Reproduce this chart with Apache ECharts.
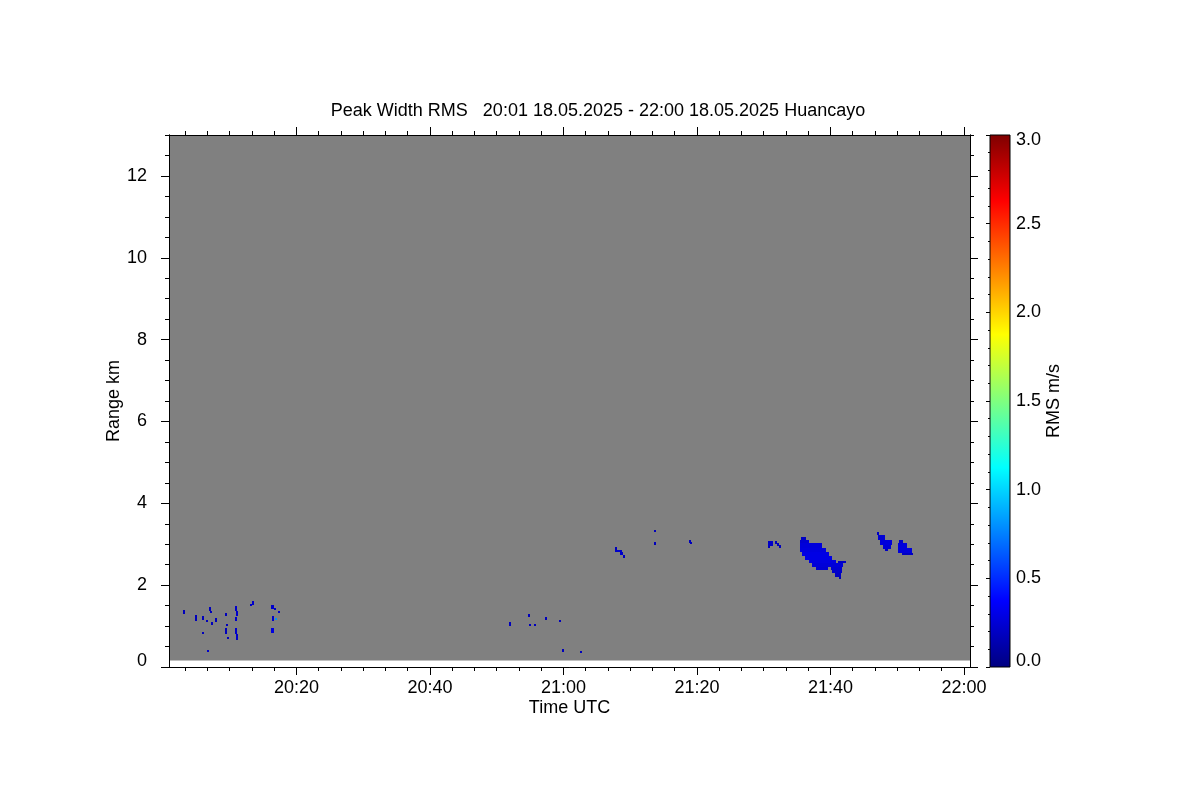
<!DOCTYPE html>
<html>
<head>
<meta charset="utf-8">
<script src="https://cdn.jsdelivr.net/npm/echarts@6/dist/echarts.min.js"></script>
<style>
html,body{margin:0;padding:0;background:#ffffff}
#chart{width:1200px;height:800px}
</style>
</head>
<body>
<div id="chart"></div>
<script>
// ---------------- data ----------------
const titleText = 'Peak Width RMS   20:01 18.05.2025 - 22:00 18.05.2025 Huancayo';
const timeMajorTicks = [20, 40, 60, 80, 100, 120];          // minutes after 20:00 UTC
const rangeMajorTicks = [0, 2, 4, 6, 8, 10, 12];            // km
const rmsTicks = [0, 0.5, 1, 1.5, 2, 2.5, 3];               // m/s
const timeExtent = [0.9, 120.9];                            // minutes after 20:00
const rangeExtent = [0, 13];                                // km
const coverageTime = [0.9, 120.9];                          // measured window
const coverageRange = [0.16, 13];                           // measured heights
const jetColors = ['#00007f', '#0000ff', '#007fff', '#00ffff', '#7fff7f',
                   '#ffff00', '#ff7f00', '#ff0000', '#7f0000'];

// echo cells: [t start (min), t end (min), range low (km), range high (km), rms (m/s)]
const echoesEarly = [
  [3.0, 3.3, 1.29, 1.39, 0.18], [6.9, 7.2, 1.36, 1.46, 0.18], [7.0, 7.4, 1.31, 1.36, 0.18],
  [4.8, 5.1, 1.12, 1.27, 0.18], [5.9, 6.2, 1.15, 1.24, 0.18], [6.4, 6.8, 1.10, 1.15, 0.18],
  [7.2, 7.5, 1.02, 1.10, 0.18], [7.8, 8.1, 1.10, 1.20, 0.18], [9.3, 9.6, 1.24, 1.32, 0.18],
  [9.5, 9.8, 0.99, 1.04, 0.18], [9.3, 9.6, 0.80, 0.95, 0.18], [9.6, 9.9, 0.69, 0.73, 0.18],
  [5.9, 6.2, 0.81, 0.85, 0.18], [6.6, 6.9, 0.36, 0.42, 0.22],
  [10.8, 11.1, 1.36, 1.49, 0.22], [11.0, 11.3, 1.24, 1.36, 0.22], [10.8, 11.1, 1.12, 1.22, 0.22],
  [10.8, 11.1, 0.80, 0.95, 0.22], [11.0, 11.3, 0.66, 0.80, 0.22],
  [13.3, 13.6, 1.51, 1.61, 0.22], [13.1, 13.3, 1.49, 1.54, 0.22],
  [16.2, 16.6, 1.42, 1.51, 0.22], [16.6, 16.9, 1.39, 1.44, 0.22], [17.3, 17.6, 1.32, 1.37, 0.22],
  [16.4, 16.7, 1.12, 1.24, 0.22], [16.8, 17.1, 1.15, 1.20, 0.8],
  [16.2, 16.6, 0.83, 0.95, 0.28]
];
const echoesMid = [
  [51.9, 52.1, 1.00, 1.10, 0.18], [54.7, 55.0, 1.22, 1.29, 0.18], [54.9, 55.1, 1.00, 1.04, 0.18],
  [55.6, 55.8, 1.00, 1.04, 0.18], [57.3, 57.5, 1.16, 1.23, 0.18], [59.4, 59.6, 1.10, 1.14, 0.18],
  [59.8, 60.0, 0.36, 0.44, 0.18], [62.4, 62.6, 0.35, 0.39, 0.18]
];
const echoes2108 = [
  [67.7, 68.0, 2.85, 2.93, 0.18], [67.7, 68.8, 2.80, 2.85, 0.22],
  [68.5, 68.9, 2.73, 2.80, 0.22], [68.9, 69.2, 2.66, 2.73, 0.18],
  [73.6, 73.8, 3.29, 3.35, 0.18], [73.5, 73.9, 2.97, 3.05, 0.18],
  [78.8, 79.0, 3.04, 3.10, 0.18], [79.0, 79.3, 3.00, 3.05, 0.18]
];
const echoes2131 = [
  [90.6, 91.4, 2.95, 3.07, 0.22], [90.7, 90.9, 2.90, 2.95, 0.18],
  [91.7, 92.0, 3.00, 3.07, 0.18], [92.0, 92.3, 2.95, 3.02, 0.18], [92.3, 92.6, 2.90, 2.97, 0.18]
];
const echoes2135 = [
  [95.6, 96.3, 3.10, 3.17, 0.2], [95.4, 96.8, 3.02, 3.10, 0.24], [95.4, 98.7, 2.90, 3.02, 0.27],
  [95.4, 99.3, 2.80, 2.90, 0.28], [95.7, 99.8, 2.71, 2.80, 0.3], [96.2, 100.2, 2.61, 2.71, 0.3],
  [96.8, 100.8, 2.54, 2.61, 0.28], [101.1, 102.3, 2.54, 2.58, 0.2],
  [97.2, 101.9, 2.44, 2.54, 0.26], [97.8, 99.6, 2.37, 2.44, 0.24], [100.1, 101.7, 2.37, 2.44, 0.24],
  [100.2, 101.7, 2.29, 2.37, 0.22], [100.7, 101.6, 2.20, 2.29, 0.2], [101.3, 101.6, 2.15, 2.20, 0.16]
];
const echoes2147 = [
  [107.0, 107.3, 3.22, 3.29, 0.2], [107.1, 108.2, 3.10, 3.22, 0.25], [107.4, 109.2, 2.98, 3.10, 0.27],
  [107.9, 109.1, 2.88, 2.98, 0.25], [108.2, 108.6, 2.83, 2.88, 0.2]
];
const echoes2150 = [
  [110.3, 110.8, 3.02, 3.10, 0.22], [110.1, 111.5, 2.90, 3.02, 0.27],
  [110.1, 112.2, 2.78, 2.90, 0.27], [110.7, 112.4, 2.73, 2.78, 0.2]
];

// ---------------- chart ----------------
const FONT = '"Liberation Sans", Arial, Helvetica, sans-serif';
const allEchoes = [].concat(echoesEarly, echoesMid, echoes2108, echoes2131, echoes2135, echoes2147, echoes2150);
const minorTimeTicks = [];
for (let k = 1; k * 10 / 3 < timeExtent[1]; k++) minorTimeTicks.push(k * 10 / 3);

function fmtTime(v) {
  const total = Math.round(v);
  const h = 20 + Math.floor(total / 60);
  const m = total % 60;
  return h + ':' + (m < 10 ? '0' + m : m);
}

function rectBetween(api, x0, x1, y0, y1, snap) {
  const a = api.coord([x0, y1]);
  const b = api.coord([x1, y0]);
  if (!snap) return { x: a[0], y: a[1], width: b[0] - a[0], height: b[1] - a[1] };
  const xa = Math.round(a[0]), ya = Math.round(a[1]);
  const xb = Math.max(Math.round(b[0]), xa + 2), yb = Math.max(Math.round(b[1]), ya + 2);
  return { x: xa, y: ya, width: xb - xa, height: yb - ya };
}

const axisLineStyle = { lineStyle: { color: '#000', width: 1 } };
function xAx(pos, ticks, len, labels) {
  return {
    type: 'value', gridIndex: 0, min: timeExtent[0], max: timeExtent[1], position: pos, z: 10,
    axisLine: Object.assign({ show: true, onZero: false }, axisLineStyle),
    axisTick: { show: true, length: len, customValues: ticks, lineStyle: { color: '#000' } },
    axisLabel: labels ? {
      show: true, customValues: timeMajorTicks, formatter: fmtTime, margin: 12,
      color: '#000', fontSize: 18, fontFamily: FONT
    } : { show: false },
    splitLine: { show: false }
  };
}
function yAx(pos, major, len, labels) {
  const o = {
    type: 'value', gridIndex: 0, min: rangeExtent[0], max: rangeExtent[1], position: pos, z: 10,
    axisLine: Object.assign({ show: true, onZero: false }, axisLineStyle),
    axisTick: { show: true, length: len, lineStyle: { color: '#000' } },
    axisLabel: { show: false },
    splitLine: { show: false }
  };
  if (major) {
    o.axisTick.customValues = rangeMajorTicks;
  } else {
    o.interval = 0.5;
  }
  if (labels) {
    o.axisLabel = {
      show: true, customValues: rangeMajorTicks, margin: 22, color: '#000', fontSize: 18, fontFamily: FONT,
      formatter: v => v === 0 ? '{lo|0}' : String(v),
      rich: { lo: { fontSize: 18, fontFamily: FONT, color: '#000', padding: [0, 0, 12, 0] } }
    };
    o.name = 'Range km';
    o.nameLocation = 'middle';
    o.nameGap = 46;
    o.nameMoveOverlap = false;
    o.nameTextStyle = { color: '#000', fontSize: 18, fontFamily: FONT };
  }
  return o;
}

const xMain = xAx('bottom', timeMajorTicks, 8, true);
xMain.name = 'Time UTC';
xMain.nameLocation = 'middle';
xMain.nameGap = 32;
xMain.nameMoveOverlap = false;
xMain.nameTextStyle = { color: '#000', fontSize: 18, fontFamily: FONT };

const option = {
  backgroundColor: '#ffffff',
  animation: false,
  title: {
    text: titleText, left: 593, top: 97, textAlign: 'center',
    textStyle: { color: '#000', fontSize: 18, fontWeight: 'normal', fontFamily: FONT }
  },
  grid: [
    { left: 169, top: 135, width: 801, height: 532, containLabel: false },
    { left: 990, top: 135, width: 20, height: 532, containLabel: false }
  ],
  xAxis: [
    xMain,
    xAx('bottom', minorTimeTicks, 4, false),
    xAx('top', timeMajorTicks, 8, false),
    xAx('top', minorTimeTicks, 4, false),
    { type: 'value', gridIndex: 1, min: 0, max: 1, show: false }
  ],
  yAxis: [
    yAx('left', true, 8, true),
    yAx('left', false, 4, false),
    yAx('right', true, 8, false),
    yAx('right', false, 4, false),
    {
      type: 'value', gridIndex: 1, min: rmsTicks[0], max: rmsTicks[rmsTicks.length - 1], interval: 0.5,
      position: 'right', z: 10,
      axisLine: { show: false },
      axisTick: { show: true, inside: true, length: 4, lineStyle: { color: '#000' } },
      minorTick: { show: true, splitNumber: 5, length: 2, lineStyle: { color: '#000' } },
      axisLabel: {
        show: true, margin: 6, color: '#000', fontSize: 18, fontFamily: FONT,
        formatter: v => v === 3 ? '{hi|3.0}' : (v === 0 ? '{lo|0.0}' : v.toFixed(1)),
        rich: {
          hi: { fontSize: 18, fontFamily: FONT, color: '#000', padding: [10, 0, 0, 0] },
          lo: { fontSize: 18, fontFamily: FONT, color: '#000', padding: [0, 0, 12, 0] }
        }
      },
      splitLine: { show: false },
      name: 'RMS m/s', nameLocation: 'middle', nameGap: 35, nameMoveOverlap: false,
      nameTextStyle: { color: '#000', fontSize: 18, fontFamily: FONT }
    }
  ],
  visualMap: {
    type: 'continuous', show: false, seriesIndex: 1, dimension: 4,
    min: rmsTicks[0], max: rmsTicks[rmsTicks.length - 1],
    inRange: { color: jetColors }
  },
  series: [
    {
      type: 'custom', xAxisIndex: 0, yAxisIndex: 0, silent: true, clip: true,
      data: [[coverageTime[0], coverageTime[1], coverageRange[0], coverageRange[1]]],
      renderItem: (params, api) => ({
        type: 'rect',
        shape: rectBetween(api, api.value(0), api.value(1), api.value(2), api.value(3), false),
        style: { fill: '#808080' }
      })
    },
    {
      type: 'custom', xAxisIndex: 0, yAxisIndex: 0, silent: true, clip: true,
      encode: { x: [0, 1], y: [2, 3] },
      data: allEchoes,
      renderItem: (params, api) => ({
        type: 'rect',
        shape: rectBetween(api, api.value(0), api.value(1), api.value(2), api.value(3), true),
        style: { fill: api.visual('color') }
      })
    },
    {
      type: 'custom', xAxisIndex: 4, yAxisIndex: 4, silent: true, clip: false,
      data: [[0, 1, rmsTicks[0], rmsTicks[rmsTicks.length - 1]]],
      renderItem: (params, api) => ({
        type: 'rect',
        shape: rectBetween(api, api.value(0), api.value(1), api.value(2), api.value(3), false),
        style: {
          fill: {
            type: 'linear', x: 0, y: 1, x2: 0, y2: 0,
            colorStops: jetColors.map((c, i) => ({ offset: i / (jetColors.length - 1), color: c }))
          },
          stroke: '#000', lineWidth: 1
        }
      })
    }
  ]
};

const chart = echarts.init(document.getElementById('chart'), null, { renderer: 'canvas' });
chart.setOption(option);
</script>
</body>
</html>
